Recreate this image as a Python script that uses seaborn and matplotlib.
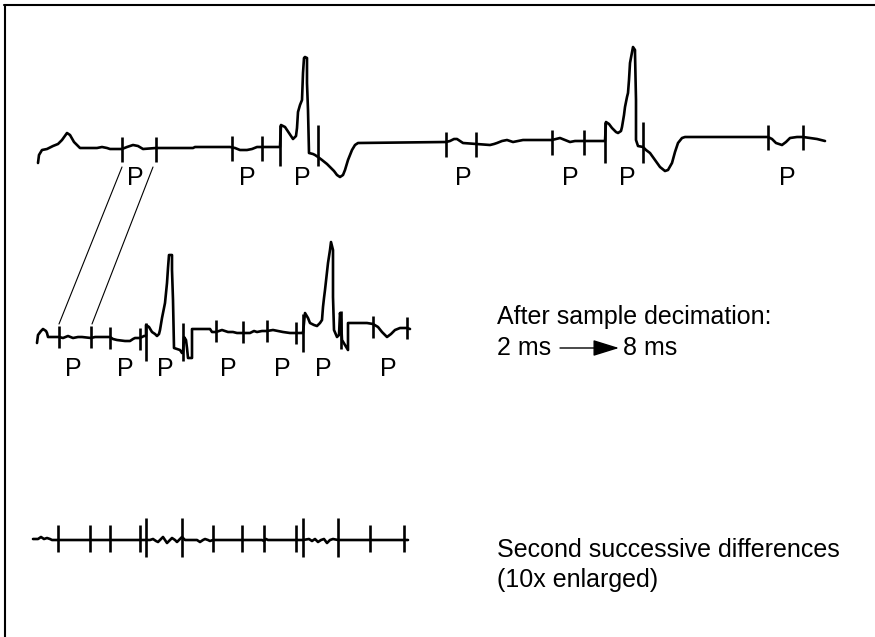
import matplotlib
matplotlib.use("Agg")
import matplotlib.pyplot as plt
from matplotlib.lines import Line2D
import seaborn as sns
import pandas as pd

W, H = 875, 637

# --- trace samples (t, level) ---
top_t = [38, 39, 42, 47, 53, 58, 62, 67, 70, 74, 80, 97, 102, 107, 110, 122, 127, 133, 138, 143,
         156, 193, 195, 230, 235, 240, 247, 252, 257, 262, 280, 281, 285, 289, 293, 296, 297, 298,
         300, 302, 303, 304, 305, 307, 307, 308, 309, 313, 315, 318, 322, 327, 330, 334, 337, 340,
         343, 345, 348, 352, 355, 358, 446, 450, 454, 457, 460, 463, 476, 490, 494, 497, 502, 507,
         510, 513, 518, 523, 552, 556, 560, 565, 570, 575, 584, 605, 606, 609, 612, 616, 618, 621,
         622, 624, 625, 627, 628, 629, 630, 632, 633, 635, 635, 636, 636, 638, 643, 646, 650, 655,
         660, 665, 668, 672, 675, 678, 682, 685, 768, 772, 776, 782, 786, 790, 797, 803, 810, 817, 825]
top_y = [163, 155, 150, 149, 146, 144, 140, 133, 135, 142, 148, 148, 147, 148, 149, 149, 147, 145, 146, 149,
         148, 148, 147, 147, 148, 150, 150, 149, 147, 147, 147, 125, 127, 133, 139, 136, 128, 112,
         105, 100, 73, 58, 57, 58, 83, 110, 153, 154, 155, 157, 160, 164, 167, 171, 175, 177,
         175, 170, 160, 150, 145, 143, 142, 141, 139, 139, 141, 143, 144, 145, 144, 143, 141, 140,
         141, 142, 141, 140, 140, 139, 138, 140, 142, 141, 141, 141, 122, 124, 128, 132, 133, 131,
         127, 115, 107, 97, 93, 80, 63, 52, 47, 50, 53, 100, 140, 146, 147, 150, 153, 160,
         167, 171, 170, 163, 152, 143, 138, 137, 137, 139, 143, 145, 142, 138, 137, 137, 138, 139, 141]

mid_t = [37, 38, 41, 43, 46, 47, 48, 59, 63, 68, 73, 78, 82, 91, 95, 100, 110, 113, 117, 125, 130, 133,
         135, 140, 144, 146, 146, 149, 152, 155, 157, 159, 160, 162, 163, 165, 166, 167, 168, 169, 172,
         172, 173, 174, 180, 182, 183, 184, 186, 187, 188, 192, 192, 200, 210, 212, 216, 222, 228, 233,
         237, 243, 250, 254, 257, 262, 267, 273, 278, 283, 290, 296, 302, 303, 305, 308, 310, 314, 317,
         320, 322, 323, 324, 325, 327, 328, 330, 331, 333, 333, 334, 337, 339, 340, 341, 342, 345, 348,
         348, 353, 367, 373, 378, 382, 387, 391, 395, 400, 407, 410]
mid_y = [343, 335, 331, 329, 331, 333, 337, 337, 338, 336, 338, 337, 337, 338, 337, 337, 337, 339, 340, 341, 341, 339,
         338, 338, 336, 336, 325, 327, 332, 334, 336, 334, 330, 318, 313, 303, 293, 283, 268, 255, 255,
         270, 300, 348, 350, 353, 352, 337, 340, 348, 358, 358, 329, 329, 329, 332, 332, 330, 332, 332,
         333, 333, 333, 331, 332, 331, 331, 330, 331, 332, 333, 333, 333, 333, 313, 318, 323, 325, 326,
         323, 320, 307, 298, 290, 272, 263, 250, 242, 250, 297, 330, 337, 335, 313, 320, 340, 345, 350,
         323, 323, 323, 324, 327, 332, 337, 334, 330, 328, 328, 329]

bot_t = [33, 38, 41, 44, 47, 50, 52, 146, 150, 153, 156, 158, 161, 163, 165, 167, 170, 172, 175, 177,
         180, 182, 185, 197, 200, 203, 205, 208, 210, 213, 262, 264, 266, 268, 303, 309, 312, 315, 318,
         321, 324, 327, 330, 333, 338, 408]
bot_y = [539, 539, 537, 539, 538, 539, 540, 540, 540, 539, 541, 542, 539, 537, 540, 543, 540, 538, 540, 542,
         539, 537, 540, 540, 542, 540, 539, 540, 541, 540, 540, 541, 539, 540, 540, 539, 541, 539, 542,
         540, 539, 543, 540, 539, 540, 540]

# --- fiducial marks: time, centre level, long mark flag ---
top_tick_t = [122, 156, 232, 262, 280, 318, 446, 476, 552, 584, 605, 643, 768, 803]
top_tick_c = [149, 149, 148, 148, 145, 145, 144, 144, 142, 142, 142, 142, 137, 137]
top_tick_long = [0, 0, 0, 0, 1, 1, 0, 0, 0, 0, 1, 1, 0, 0]

mid_tick_t = [59, 91, 110, 140, 146, 183, 216, 243, 267, 296, 303, 341, 373, 407]
mid_tick_c = [337, 337, 338, 339, 342, 342, 331, 332, 331, 333, 333, 330, 327, 328]
mid_tick_long = [0, 0, 0, 0, 1, 1, 0, 0, 0, 0, 1, 1, 0, 0]

bot_tick_t = [58, 90, 110, 140, 146, 182, 213, 242, 264, 296, 303, 338, 370, 404]
bot_tick_c = [538, 538, 538, 538, 537, 537, 538, 538, 538, 538, 537, 537, 538, 538]
bot_tick_long = [0, 0, 0, 0, 1, 1, 0, 0, 0, 0, 1, 1, 0, 0]

# P-wave labels
p_top_t = [135, 247, 302, 463, 570, 627, 787]
p_mid_t = [73, 125, 165, 228, 282, 323, 388]

# lines linking the first P wave in both traces
link_top_t = [122, 153]
link_mid_t = [59, 92]

sns.set_theme(style="white")
plt.rcParams['font.family'] = ['Liberation Sans', 'DejaVu Sans']
plt.rcParams['text.color'] = 'black'

fig = plt.figure(figsize=(W / 100, H / 100), dpi=100)
ax = fig.add_axes([0, 0, 1, 1])
ax.set_xlim(0, W)
ax.set_ylim(H, 0)
ax.axis('off')

lw = 1.9
for t, y in [(top_t, top_y), (mid_t, mid_y), (bot_t, bot_y)]:
    df = pd.DataFrame({'t': t, 'y': y})
    sns.lineplot(data=df, x='t', y='y', sort=False, estimator=None,
                 color='black', linewidth=lw, ax=ax)

def marks(tt, cc, long_flag, half, half_long):
    for t, c, lg in zip(tt, cc, long_flag):
        h = half_long if lg else half
        ax.vlines(t, c - h, c + h, color='black', linewidth=lw)

marks(top_tick_t, top_tick_c, top_tick_long, 12.5, 20.5)
marks(mid_tick_t, mid_tick_c, mid_tick_long, 11, 19)
marks(bot_tick_t, bot_tick_c, bot_tick_long, 13.5, 19.5)

fs = 18
for t in p_top_t:
    ax.text(t, 178, 'P', ha='center', va='center', fontsize=fs, color='black')
for t in p_mid_t:
    ax.text(t, 369, 'P', ha='center', va='center', fontsize=fs, color='black')

for a, b in zip(link_top_t, link_mid_t):
    ax.plot([a, b], [167, 324], color='black', linewidth=0.8)

ax.text(497, 324, 'After sample decimation:', fontsize=fs, va='baseline', color='black')
ax.text(497, 355, '2 ms', fontsize=fs, va='baseline', color='black')
ax.annotate('', xy=(619, 348), xytext=(560, 348),
            arrowprops=dict(arrowstyle='-|>,head_length=0.9,head_width=0.28',
                            color='black', lw=1.0, mutation_scale=18, shrinkA=0, shrinkB=0))
ax.text(623, 355, '8 ms', fontsize=fs, va='baseline', color='black')
ax.text(497, 557, 'Second successive differences', fontsize=fs, va='baseline', color='black')
ax.text(497, 587, '(10x enlarged)', fontsize=fs, va='baseline', color='black')

# frame (only top and left edges visible)
fig.add_artist(Line2D([4 / W, 1], [1 - 5 / H, 1 - 5 / H], color='black', linewidth=1.5))
fig.add_artist(Line2D([5 / W, 5 / W], [1 - 5 / H, 0], color='black', linewidth=1.5))

fig.savefig('out.png', dpi=100)
